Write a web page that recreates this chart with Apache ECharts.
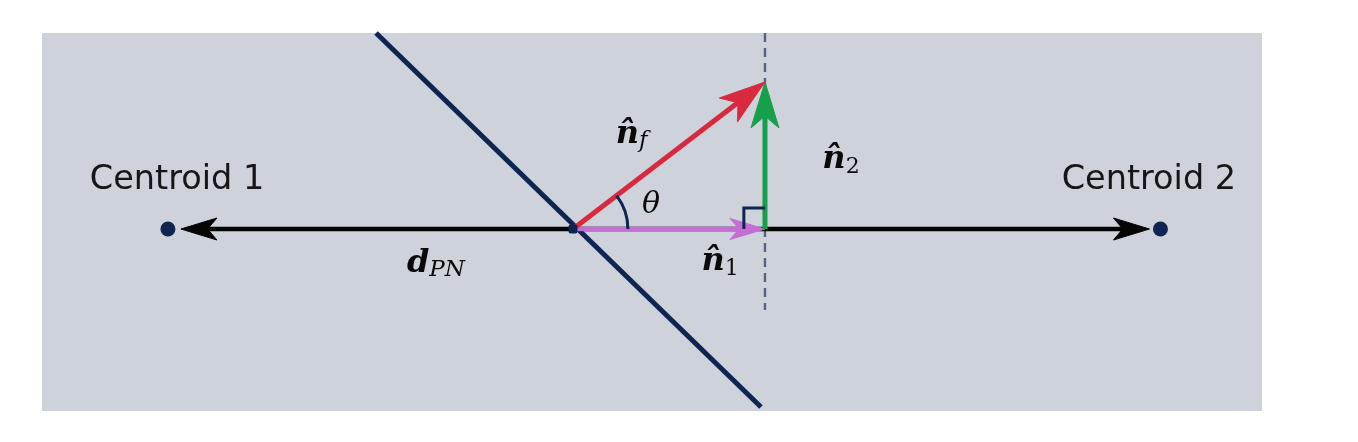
<!DOCTYPE html>
<html>
<head>
<meta charset="utf-8">
<script src="https://cdn.jsdelivr.net/npm/echarts@6/dist/echarts.min.js"></script>
<style>
html,body{margin:0;padding:0;background:#ffffff;}
#chart{width:1358px;height:442px;}
</style>
</head>
<body>
<div id="chart"></div>
<script>
// ---- Geometry (units: length of n1; origin = point P on the decision boundary) ----
const xExtent = [-2.766, 3.589];
const yExtent = [-0.948, 1.021];
const pointP = [0, 0];
const centroid1 = [-2.11, 0];
const centroid2 = [3.06, 0];
const n1Tip = [1, 0];
const nfTip = [1, 0.766];
const boundaryLine = [[-1.026, 1.021], [0.979, -0.927]];
const dashedLine = [[1, 1.021], [1, -0.422]];
const thetaRadius = 0.286;
const rightAngleSize = 0.11;

// ---- Arrows: [from, to] ----
const arrowNames = ['dPN-left', 'dPN-right', 'n1', 'n2', 'nf'];
const arrowFrom = [pointP, pointP, pointP, n1Tip, pointP];
const arrowTo = [centroid1, centroid2, n1Tip, nfTip, nfTip];

// ---- Text labels ----
const labelTexts = ['Centroid 1', 'Centroid 2', '{m|d}{s|PN}', '{m|n\u0302}{s|f}', '{t|\u03b8}', '{m|n\u0302}{d|2}', '{m|n\u0302}{d|1}'];
const labelPositions = [[-2.0625, 0.255], [3.0, 0.255], [-0.714, -0.18], [0.305, 0.49], [0.406, 0.125], [1.396, 0.36], [0.766, -0.172]];

// ---- Styles (kept apart from data) ----
const NAVY = '#0e2552';
const arrowStyles = [
  {color: '#050505', width: 4.5, L: 36, W: 22, gap: 13},
  {color: '#050505', width: 4.5, L: 36, W: 22, gap: 11},
  {color: '#c46ed4', width: 4.5, L: 35, W: 21, gap: 0},
  {color: '#17a04b', width: 5, L: 46, W: 28, gap: 0},
  {color: '#d8293f', width: 5, L: 46, W: 30, gap: 0}
];

const chart = echarts.init(document.getElementById('chart'), null, {renderer: 'canvas'});

function renderArrow(params, api) {
  const s = arrowStyles[params.dataIndex];
  const a = api.coord([api.value(0), api.value(1)]);
  const b = api.coord([api.value(2), api.value(3)]);
  const dx = b[0] - a[0], dy = b[1] - a[1];
  const len = Math.hypot(dx, dy);
  const ux = dx / len, uy = dy / len;
  const nx = -uy, ny = ux;
  const tip = [b[0] - ux * s.gap, b[1] - uy * s.gap];
  const back = [tip[0] - ux * s.L, tip[1] - uy * s.L];
  const notch = [tip[0] - ux * s.L * 0.74, tip[1] - uy * s.L * 0.74];
  const head = [
    tip,
    [back[0] + nx * s.W / 2, back[1] + ny * s.W / 2],
    notch,
    [back[0] - nx * s.W / 2, back[1] - ny * s.W / 2]
  ];
  return {
    type: 'group',
    children: [
      {type: 'line', shape: {x1: a[0], y1: a[1], x2: notch[0] + ux * 3, y2: notch[1] + uy * 3},
        style: {stroke: s.color, lineWidth: s.width, lineCap: 'butt'}},
      {type: 'polygon', shape: {points: head}, style: {fill: s.color, stroke: s.color, lineWidth: 1, lineJoin: 'round'}}
    ]
  };
}

function renderMarks(params, api) {
  const p = api.coord(pointP);
  const f = api.coord(nfTip);
  const c = api.coord(n1Tip);
  const ang = Math.atan2(f[1] - p[1], f[0] - p[0]);
  const r = api.size([thetaRadius, 0])[0];
  const sq = api.size([rightAngleSize, 0])[0];
  return {
    type: 'group',
    children: [
      {type: 'arc', shape: {cx: p[0], cy: p[1], r: r, startAngle: ang, endAngle: 0, clockwise: true},
        style: {stroke: NAVY, lineWidth: 3, fill: null}},
      {type: 'polyline', shape: {points: [[c[0] - sq, c[1]], [c[0] - sq, c[1] - sq], [c[0], c[1] - sq]]},
        style: {stroke: NAVY, lineWidth: 3, fill: null}}
    ]
  };
}

const arrowData = arrowFrom.map((fr, i) => [fr[0], fr[1], arrowTo[i][0], arrowTo[i][1]]);

const mathFont = '"DejaVu Serif"';
const option = {
  animation: false,
  backgroundColor: '#ffffff',
  grid: {left: 42, right: 96, top: 33, bottom: 31, show: true, backgroundColor: '#cdd2db', borderWidth: 0, containLabel: false},
  xAxis: {type: 'value', min: xExtent[0], max: xExtent[1], show: false},
  yAxis: {type: 'value', min: yExtent[0], max: yExtent[1], show: false},
  series: [
    {
      type: 'line', data: dashedLine, symbol: 'none', silent: true, z: 1,
      lineStyle: {color: '#56627e', width: 2.4, type: [9, 6], opacity: 1}
    },
    {
      type: 'line', data: boundaryLine, symbol: 'none', silent: true, z: 2,
      lineStyle: {color: NAVY, width: 5, cap: 'butt', opacity: 1}
    },
    {
      type: 'custom', name: 'arrows', z: 3, clip: false,
      data: arrowData, renderItem: renderArrow
    },
    {
      type: 'custom', name: 'marks', z: 4, clip: false,
      data: [[0, 0]], renderItem: renderMarks
    },
    {
      type: 'scatter', z: 5, silent: true,
      data: [centroid1, centroid2], symbolSize: 15, itemStyle: {color: NAVY, opacity: 1}
    },
    {
      type: 'scatter', z: 5, silent: true,
      data: [pointP], symbolSize: 9, symbol: 'roundRect', itemStyle: {color: NAVY, opacity: 1}
    },
    {
      type: 'scatter', z: 6, silent: true,
      data: labelPositions.map((p, i) => ({value: p, name: labelTexts[i]})),
      symbolSize: 1, itemStyle: {color: 'rgba(0,0,0,0)', opacity: 1},
      label: {
        show: true, position: 'inside', formatter: (d) => d.name, opacity: 1,
        color: '#161616', fontFamily: '"DejaVu Sans"', fontSize: 33.5,
        rich: {
          m: {fontFamily: mathFont, fontStyle: 'italic', fontWeight: 'bold', fontSize: 32, lineHeight: 36, color: '#0a0a0a'},
          s: {fontFamily: mathFont, fontStyle: 'italic', fontSize: 23, lineHeight: 24, verticalAlign: 'bottom', color: '#0a0a0a'},
          d: {fontFamily: mathFont, fontSize: 22, lineHeight: 23, verticalAlign: 'bottom', color: '#0a0a0a'},
          t: {fontFamily: mathFont, fontStyle: 'italic', fontSize: 30, lineHeight: 36, color: '#0a0a0a'}
        }
      }
    }
  ]
};
chart.setOption(option);
</script>
</body>
</html>
